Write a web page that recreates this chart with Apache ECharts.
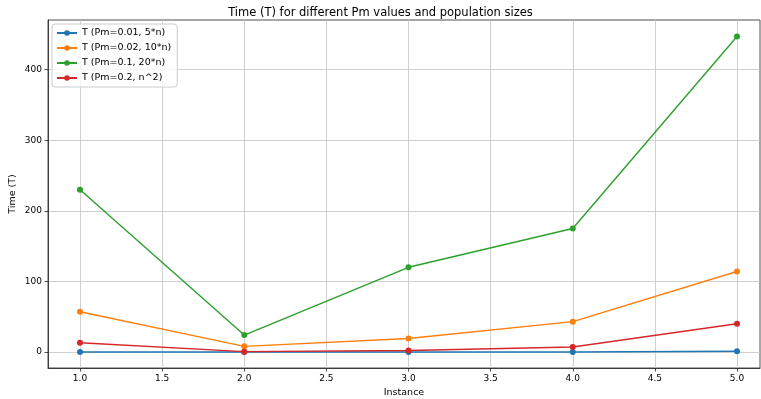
<!DOCTYPE html>
<html>
<head>
<meta charset="utf-8">
<script src="https://cdn.jsdelivr.net/npm/echarts@6/dist/echarts.min.js"></script>
<style>
html,body{margin:0;padding:0;background:#fff;}
#c{width:761px;height:399px;}
</style>
</head>
<body>
<div id="c"></div>
<script>
const instances = [1, 2, 3, 4, 5];
const seriesNames = ['T (Pm=0.01, 5*n)', 'T (Pm=0.02, 10*n)', 'T (Pm=0.1, 20*n)', 'T (Pm=0.2, n^2)'];
const tPm001 = [0, 0, 0, 0, 1];
const tPm002 = [57, 8, 19, 43, 114];
const tPm01 = [230, 24, 120, 175, 447];
const tPm02 = [13, 0.5, 2, 7, 40];
const xTicks = [1.0, 1.5, 2.0, 2.5, 3.0, 3.5, 4.0, 4.5, 5.0];
const yTicks = [0, 100, 200, 300, 400];
const colors = ['#1f77b4', '#ff7f0e', '#2ca02c', '#d62728'];

const allData = [tPm001, tPm002, tPm01, tPm02];
const font = 'DejaVu Sans';

const chart = echarts.init(document.getElementById('c'), null, {renderer: 'canvas'});
chart.setOption({
  animation: false,
  backgroundColor: '#fff',
  title: {
    text: 'Time (T) for different Pm values and population sizes',
    left: 'center', top: 2,
    textStyle: {fontFamily: font, fontSize: 11.5, fontWeight: 'normal', color: '#000'}
  },
  legend: {
    left: 52, top: 24, orient: 'vertical',
    itemWidth: 20, itemHeight: 7, itemGap: 5,
    padding: [4, 6, 4, 4],
    backgroundColor: 'rgba(255,255,255,0.8)',
    borderColor: '#ccc', borderWidth: 1, borderRadius: 3,
    textStyle: {fontFamily: font, fontSize: 9.5, color: '#000'},
    data: seriesNames
  },
  grid: {
    left: 48, right: 1, top: 20, bottom: 31,
    containLabel: false, outerBoundsMode: 'none',
    show: true, borderColor: '#222', borderWidth: 0.8
  },
  xAxis: {
    type: 'value', min: 0.805, max: 5.14,
    name: 'Instance', nameLocation: 'middle', nameGap: 20, nameMoveOverlap: false,
    nameTextStyle: {fontFamily: font, fontSize: 9.5, color: '#000'},
    axisLine: {show: true, onZero: false, lineStyle: {color: '#222', width: 0.8}},
    axisTick: {show: true, length: 3.5, customValues: xTicks, lineStyle: {color: '#222', width: 0.8}},
    axisLabel: {customValues: xTicks, margin: 6, fontFamily: font, fontSize: 9, color: '#000',
      formatter: v => v.toFixed(1)},
    splitLine: {show: true, lineStyle: {color: '#c4c4c4', width: 0.8}}
  },
  yAxis: {
    type: 'value', min: -22.7, max: 470.4,
    name: 'Time (T)', nameLocation: 'middle', nameGap: 30, nameRotate: 90, nameMoveOverlap: false,
    nameTextStyle: {fontFamily: font, fontSize: 9.5, color: '#000'},
    axisLine: {show: true, onZero: false, lineStyle: {color: '#222', width: 0.8}},
    axisTick: {show: true, length: 3.5, customValues: yTicks, lineStyle: {color: '#222', width: 0.8}},
    axisLabel: {customValues: yTicks, margin: 6, fontFamily: font, fontSize: 9, color: '#000'},
    splitLine: {show: true, lineStyle: {color: '#c4c4c4', width: 0.8}}
  },
  series: seriesNames.map((name, i) => ({
    name: name,
    type: 'line',
    data: instances.map((x, j) => [x, allData[i][j]]),
    color: colors[i],
    symbol: 'circle', symbolSize: 6,
    lineStyle: {width: 1.4},
    itemStyle: {color: colors[i]},
    z: 2 + i
  }))
});
</script>
</body>
</html>
